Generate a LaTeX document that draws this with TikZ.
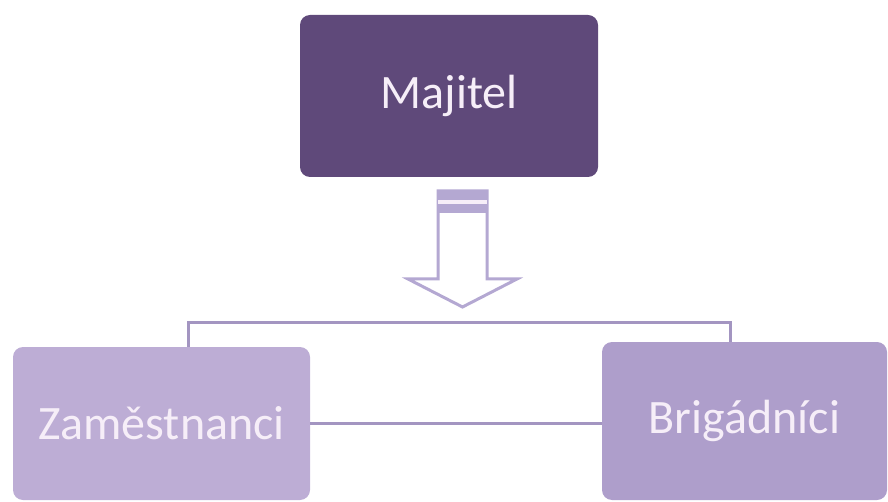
\documentclass[tikz,border=0pt]{standalone}
\usepackage{fontspec}
\setmainfont{Carlito}
\usepackage{xcolor}
\definecolor{boss_purple}{RGB}{95, 73, 122}
\definecolor{staff_lilac}{RGB}{189, 173, 213}
\definecolor{temp_lilac}{RGB}{174, 158, 203}
\definecolor{link_lilac}{RGB}{163, 149, 193}
\definecolor{arrow_lilac}{RGB}{180, 168, 210}
\definecolor{label_white}{RGB}{246, 238, 248}
\usetikzlibrary{positioning}

\begin{document}
\begin{tikzpicture}[x=1pt, y=1pt,
    box/.style={rectangle, rounded corners=10pt, inner sep=0pt,
        text=label_white, font=\fontsize{48}{56}\selectfont},
    link/.style={draw=link_lilac, line width=3pt}]
    \useasboundingbox (0, 0) rectangle (888, -502);

    % Boxes
    \node[box, fill=boss_purple, minimum width=298pt, minimum height=162pt] (majitel) at (449, -96) {Majitel};
    \node[box, fill=staff_lilac, minimum width=297pt, minimum height=153pt] (zam) at (161.5, -423.5) {Zaměstnanci};
    \node[box, fill=temp_lilac, minimum width=285pt, minimum height=158pt] (brig) at (744.5, -421) {Brigádníci};

    % Hollow arrow
    \draw[draw=arrow_lilac, fill=white, line width=3pt, line join=miter]
        (438, -191) -- (438, -279) -- (408, -279) -- (462.5, -307)
        -- (517, -279) -- (487, -279) -- (487, -191) -- cycle;
    \fill[arrow_lilac] (438, -191) rectangle (487, -213);
    \fill[label_white] (438, -200) rectangle (487, -204);

    % Connections
    \coordinate (top) at (0, -322);
    \draw[link] (zam.north -| 188, 0) |- (top -| 460, 0) -| ([xshift=-14.5pt]brig.north);
    \draw[link] (zam.east) -- (zam.east -| brig.west);
\end{tikzpicture}
\end{document}
